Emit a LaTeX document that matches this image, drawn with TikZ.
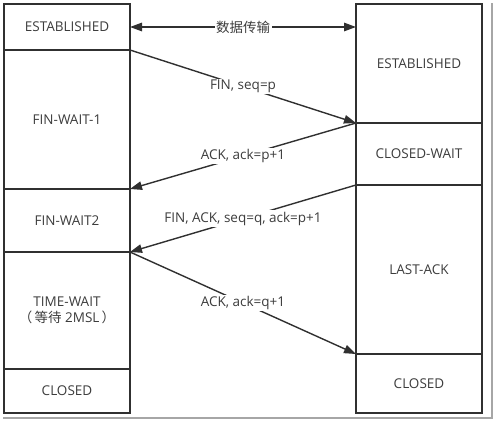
\documentclass[tikz,border=0pt]{standalone}
\usepackage{fontspec}
\setmainfont{Open Sans}
\newfontfamily\cjk{Noto Sans CJK SC}
\usetikzlibrary{arrows.meta}
\definecolor{linec}{HTML}{303030}
\definecolor{textc}{HTML}{3c3c3c}
\tikzset{tip/.tip={Triangle[length=12pt,width=8.5pt]}}
\begin{document}
\begin{tikzpicture}[x=1pt,y=-1pt,
  every node/.style={font=\fontsize{13.5}{16}\selectfont, text=textc},
  state/.style={draw=linec, line width=1.2pt, outer sep=0pt, inner sep=0pt, minimum width=126pt, align=center},
  msg/.style={draw=linec, line width=1.4pt, -tip},
  lbl/.style={fill=white, inner sep=1.5pt}
]
\useasboundingbox (0,0) rectangle (495,421);
% screenshot shadow
\draw[draw=gray!70, line width=2pt] (492,3) -- (492,418) -- (3,418);
% left column
\node[state, minimum height=46pt] (le) at (67,27) {ESTABLISHED};
\node[state, minimum height=139pt] (fw1) at (67,119.5) {FIN-WAIT-1};
\node[state, minimum height=63pt] (fw2) at (67,220.5) {FIN-WAIT2};
\node[state, minimum height=117pt] (tw) at (67,310.5) {TIME-WAIT\\{\cjk （}\,{\cjk 等待} 2MSL\,{\cjk ）}};
\node[state, minimum height=44pt] (lc) at (67,391) {CLOSED};
% right column
\node[state, minimum height=119pt] (re) at (419,63.5) {ESTABLISHED};
\node[state, minimum height=62pt] (cw) at (419,154) {CLOSED-WAIT};
\node[state, minimum height=169pt] (la) at (419,269.5) {LAST-ACK};
\node[state, minimum height=59pt] (rc) at (419,383.5) {CLOSED};
% messages
\coordinate (dr) at (le.east -| re.west);
\draw[msg, tip-tip] (le.east) -- node[lbl, pos=0.5] {\cjk 数据传输} (dr);
\draw[msg] (le.south east) -- node[lbl, pos=0.5] {FIN, seq=p} (re.south west);
\draw[msg] (re.south west) -- node[lbl, pos=0.5] {ACK, ack=p+1} (fw1.south east);
\draw[msg] (cw.south west) -- node[lbl, pos=0.5] {FIN, ACK, seq=q, ack=p+1} (fw2.south east);
\draw[msg] (fw2.south east) -- node[lbl, pos=0.5] {ACK, ack=q+1} (la.south west);
\end{tikzpicture}
\end{document}
